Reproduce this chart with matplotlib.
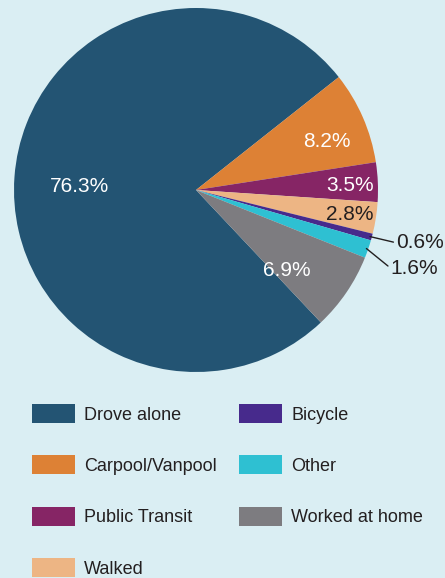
import matplotlib
matplotlib.use("Agg")
import matplotlib.pyplot as plt
import numpy as np
from matplotlib.patches import Patch

categories = ["Drove alone", "Carpool/Vanpool", "Public Transit", "Walked",
              "Bicycle", "Other", "Worked at home"]
shares = [76.3, 8.2, 3.5, 2.8, 0.6, 1.6, 6.9]
pct_labels = ["76.3%", "8.2%", "3.5%", "2.8%", "0.6%", "1.6%", "6.9%"]

colors = ["#235473", "#DD8135", "#862565", "#EDB584", "#472A8C", "#2EC0D2", "#7D7C80"]
text_colors = ["white", "white", "white", "#231F20", "#231F20", "#231F20", "white"]
# radial position of each label (fraction of radius); outside ones get a leader line
label_r = [0.64, 0.77, 0.85, 0.855, None, None, 0.66]
label_dang = [1.5, -2.5, 0, 0.5, 0, 0, -6.5]
outside_xy = {4: (1.10, -0.29), 5: (1.07, -0.43)}

BG = "#DAEEF3"
plt.rcParams["font.family"] = ["Liberation Sans", "DejaVu Sans"]

W, H = 445, 578
fig = plt.figure(figsize=(W / 100, H / 100), dpi=100, facecolor=BG)
cx, cy, R = 196, 190, 182
ax = fig.add_axes([(cx - R) / W, (H - cy - R) / H, 2 * R / W, 2 * R / H])
ax.set_facecolor(BG)

wedges, _ = ax.pie(shares, colors=colors, startangle=313.3, counterclock=False,
                   radius=1.0, wedgeprops=dict(linewidth=0))
ax.set_xlim(-1, 1)
ax.set_ylim(-1, 1)
ax.set_aspect("equal")
ax.axis("off")

for i, w in enumerate(wedges):
    mid = np.deg2rad((w.theta1 + w.theta2) / 2 + label_dang[i])
    if label_r[i] is not None:
        ax.text(label_r[i] * np.cos(mid), label_r[i] * np.sin(mid) - 0.01, pct_labels[i],
                ha="center", va="center", fontsize=15, color=text_colors[i])
    else:
        mid = np.deg2rad((w.theta1 + w.theta2) / 2)
        x0, y0 = 0.99 * np.cos(mid), 0.99 * np.sin(mid)
        tx, ty = outside_xy[i]
        ax.annotate(pct_labels[i], xy=(x0, y0), xytext=(tx, ty),
                    ha="left", va="center", fontsize=15, color=text_colors[i],
                    annotation_clip=False,
                    arrowprops=dict(arrowstyle="-", color="#231F20", lw=1.0,
                                    shrinkA=0, shrinkB=0,
                                    relpos=(0, 0.5)))

handles = [Patch(facecolor=c, edgecolor="none") for c in colors]
fig.legend(handles, categories, loc="upper left",
           bbox_to_anchor=(32 / W, 1 - 404 / H), ncol=2, frameon=False,
           fontsize=13, handlelength=2.4, handleheight=1.25, handletextpad=0.5,
           columnspacing=1.2, labelspacing=1.76, borderpad=0, borderaxespad=0,
           labelcolor="#231F20")

fig.savefig("out.png", dpi=100, facecolor=BG)
